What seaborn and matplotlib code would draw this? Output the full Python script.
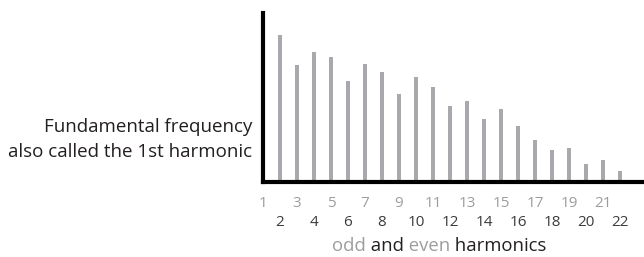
import matplotlib
matplotlib.use("Agg")
import matplotlib.pyplot as plt
import seaborn as sns
import pandas as pd

# ---- data ----
fundamental = 100  # 1st harmonic, drawn as the thick vertical axis
harmonics = list(range(2, 23))
amplitudes = [87, 69, 77, 74, 60, 70, 65, 52, 62, 56, 45, 48, 37.5, 43, 33, 25,
              19, 20, 10.5, 13, 6.7]
odd_labels = [str(k) for k in range(1, 23, 2)]
even_labels = [str(k) for k in range(2, 23, 2)]
left_text = ["Fundamental frequency", "also called the 1st harmonic"]
xlabel_parts = [("odd", "#9d9d9d"), (" and", "#231f20"), (" even", "#9d9d9d"), (" harmonics", "#231f20")]

sns.set_theme(style="white")
plt.rcParams['font.family'] = ['Open Sans', 'DejaVu Sans']

W, H = 644, 257
fig = plt.figure(figsize=(W / 100, H / 100), dpi=100)
ax_left, ax_right = 263, 643
ax_bottom_px, ax_top_px = 182, 13
ax = fig.add_axes([ax_left / W, (H - ax_bottom_px) / H,
                   (ax_right - ax_left) / W, (ax_bottom_px - ax_top_px) / H])

df = pd.DataFrame({"harmonic": harmonics, "amplitude": amplitudes})
sns.barplot(data=df, x="harmonic", y="amplitude", native_scale=True,
            width=0.28, color="#a7a9ac", saturation=1, linewidth=0, ax=ax)

px_per_unit = 17.0
ax.set_xlim(1, 1 + (ax_right - ax_left) / px_per_unit)
ax.set_ylim(0, fundamental)

for s in ["top", "right"]:
    ax.spines[s].set_visible(False)
for s in ["left", "bottom"]:
    ax.spines[s].set_color("black")
    ax.spines[s].set_linewidth(3.0)
    ax.spines[s].set_capstyle("projecting")
ax.spines["left"].set_bounds(0, fundamental)

ax.set_yticks([])
ax.set_xticks(list(range(2, 23, 2)))
ax.set_xticklabels(even_labels)
ax.set_xticks(list(range(1, 23, 2)), minor=True)
ax.set_xticklabels(odd_labels, minor=True)
ax.tick_params(axis="x", which="major", length=0, pad=24.0, labelsize=11, labelcolor="#3c3c3c")
ax.tick_params(axis="x", which="minor", length=0, pad=10.0, labelsize=11, labelcolor="#9d9d9d")
ax.set_xlabel("")
ax.set_ylabel("")

# left annotation
fig.text(252 / W, 1 - 127 / H, left_text[0], ha="right", va="center",
         fontsize=13.5, color="#231f20")
fig.text(252 / W, 1 - 152 / H, left_text[1], ha="right", va="center",
         fontsize=13.5, color="#231f20")

# multi-coloured x label
fig.canvas.draw()
renderer = fig.canvas.get_renderer()
texts = []
for word, col in xlabel_parts:
    texts.append(fig.text(0, 0, word, fontsize=13.3, color=col, va="baseline"))
widths = [t.get_window_extent(renderer).width for t in texts]
total = sum(widths)
x = 439 - total / 2
for t, w in zip(texts, widths):
    t.set_position((x / W, 1 - 251 / H))
    x += w

fig.savefig("out.png", dpi=100)
